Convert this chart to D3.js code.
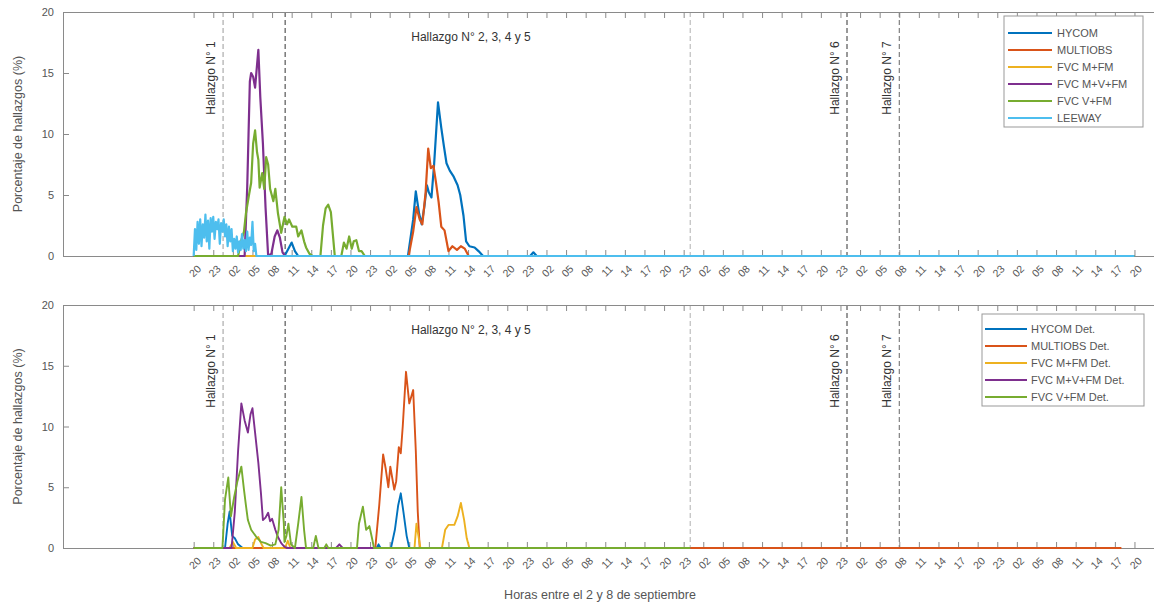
<!DOCTYPE html>
<html><head><meta charset="utf-8">
<script src="https://cdn.jsdelivr.net/npm/d3@7"></script>
<style>body{margin:0;background:#fff} svg{display:block;font-family:"Liberation Sans",Arial,Helvetica,sans-serif}</style>
</head><body><svg id="c" width="1154" height="607"></svg>
<script>
// ---------- DATA ----------
const tickLabels = ["20","23","02","05","08","11","14","17",
  "20","23","02","05","08","11","14","17",
  "20","23","02","05","08","11","14","17",
  "20","23","02","05","08","11","14","17",
  "20","23","02","05","08","11","14","17",
  "20","23","02","05","08","11","14","17","20"];
const firstTickHour = 20;   // hours since 2 Sep 00:00
const tickStepHours = 3;
const yTicks = [0,5,10,15,20];

const seriesTop = ["HYCOM","MULTIOBS","FVC M+FM","FVC M+V+FM","FVC V+FM","LEEWAY"];
const seriesBottom = ["HYCOM Det.","MULTIOBS Det.","FVC M+FM Det.","FVC M+V+FM Det.","FVC V+FM Det."];
const colors = ["#0072BD","#D95319","#EDB120","#7E2F8E","#77AC30","#4DBEEE"];

// [hour, percent]
const hycomTop = [[20,0],[33.9,0],[34.5,0.6],[35.0,1.1],[35.5,0.4],[36,0],[52.8,0],[53.6,3.0],[54.0,5.3],[54.5,3.5],[54.9,2.6],[55.3,4.0],[55.7,5.8],[56.0,5.2],[56.4,4.8],[56.8,7.5],[57.4,12.6],[57.9,10.5],[58.3,9.0],[58.7,7.6],[59.2,7.0],[59.8,6.5],[60.4,5.8],[60.8,5.0],[61.3,3.3],[61.7,1.2],[62.2,0.8],[63.0,0.7],[63.6,0.4],[64.3,0],[71.5,0],[72,0.3],[72.5,0],[164,0]];
const multiobsTop = [[20,0],[52.9,0],[53.6,2.0],[54.1,4.0],[54.6,3.0],[55.0,2.6],[55.5,5.2],[55.9,8.8],[56.3,7.2],[56.7,7.4],[57.1,6.0],[57.5,4.4],[57.9,2.4],[58.4,2.1],[59.0,0.4],[59.6,0.8],[60.3,0.5],[60.9,0.8],[61.5,0.6],[62.1,0],[164,0]];
const fvcMFMTop = [[20,0],[164,0]];
const fvcMVFMTop = [[20,0],[27.8,0],[28.2,5.7],[28.4,10.0],[28.6,14.3],[28.8,15.0],[29.1,14.7],[29.4,13.8],[29.9,16.9],[30.2,13.0],[30.6,9.2],[31.0,4.0],[31.4,0],[31.9,0.2],[32.4,1.6],[32.8,2.1],[33.2,1.5],[33.6,0.3],[34,0],[164,0]];
const fvcVFMTop = [[20,0],[26.8,0],[27.3,1.3],[27.7,2.0],[28.0,3.5],[28.5,5.1],[28.8,6.0],[29.1,9.2],[29.4,10.3],[29.7,8.5],[29.9,7.9],[30.1,5.6],[30.5,6.8],[30.8,5.5],[31.1,8.1],[31.4,7.5],[31.7,5.5],[31.9,5.1],[32.2,4.5],[32.5,5.5],[32.9,3.5],[33.4,1.9],[33.9,3.2],[34.3,2.6],[34.6,3.0],[35.1,2.4],[35.7,2.4],[36.0,1.6],[36.5,2.1],[36.9,1.2],[37.2,0.7],[37.7,0.2],[38.2,0],[39.4,0],[39.8,2.5],[40.2,3.9],[40.6,4.2],[41.0,3.6],[41.3,1.8],[41.6,0],[42.6,0],[43.0,1.1],[43.4,0.6],[43.8,1.6],[44.2,0.6],[44.5,1.2],[44.9,1.3],[45.3,0.4],[45.7,0.4],[46.2,0],[164,0]];
const leewayTop = [[20,0],[20.2,2.2],[20.4,0.5],[20.6,2.8],[20.8,1.0],[21.0,3.0],[21.2,0.8],[21.4,2.6],[21.6,1.5],[21.8,3.4],[22.0,1.2],[22.2,2.9],[22.4,0.6],[22.6,3.1],[22.8,2.0],[23.0,3.2],[23.2,1.4],[23.4,2.8],[23.6,2.2],[23.8,3.0],[24.0,1.0],[24.2,2.7],[24.4,2.0],[24.6,3.0],[24.8,1.6],[25.0,2.6],[25.2,0.8],[25.4,2.4],[25.6,1.2],[25.8,2.2],[26.0,0.4],[26.2,1.4],[26.4,0.6],[26.6,1.6],[26.8,0.3],[27.0,1.2],[27.2,0.5],[27.4,1.8],[27.6,0.6],[27.8,1.3],[28.0,0.4],[28.2,2.0],[28.4,0.5],[28.6,1.5],[28.8,0.9],[29.0,2.8],[29.2,0.4],[29.4,1.0],[29.6,0],[164,0]];

const hycomBot = [[20,0],[24.8,0],[25.2,2.0],[25.5,3.0],[25.9,1.0],[26.3,0.8],[26.8,0.3],[27.5,0],[48.0,0],[48.3,0.3],[48.6,0],[50.2,0],[50.8,1.5],[51.3,3.5],[51.7,4.5],[52.1,3.0],[52.6,1.0],[53.0,0],[96,0]];
const multiobsBot = [[20,0],[47.8,0],[48.4,3.5],[49.0,7.7],[49.4,6.5],[49.8,5.0],[50.1,6.7],[50.7,4.8],[51.0,5.5],[51.4,8.3],[51.7,7.8],[52.0,10.0],[52.5,14.5],[53.0,11.9],[53.6,13.0],[54.0,8.0],[54.3,3.0],[54.6,0],[162,0]];
const fvcMFMBot = [[20,0],[25.5,0],[26.0,0.5],[26.5,0],[29.0,0],[29.4,0.7],[29.9,0.9],[30.3,0.4],[30.7,0],[34.0,0],[34.4,0.6],[34.8,0],[53.8,0],[54.1,2.0],[54.4,1.0],[54.7,0],[58.0,0],[58.5,1.5],[59.0,1.9],[59.9,1.9],[60.4,2.6],[60.9,3.7],[61.4,2.3],[61.8,0.8],[62.2,0],[96,0]];
const fvcMVFMBot = [[20,0],[25.8,0],[26.3,3.0],[26.8,8.0],[27.3,11.9],[27.8,10.5],[28.3,9.5],[28.7,11.0],[29.0,11.5],[29.4,9.5],[29.9,7.0],[30.3,4.5],[30.6,2.3],[31.0,2.5],[31.4,2.9],[31.7,2.2],[32.0,2.4],[32.5,1.5],[32.9,0.9],[33.4,0.4],[33.9,0.1],[34.4,0],[41.8,0],[42.3,0.3],[42.8,0],[96,0]];
const fvcVFMBot = [[20,0],[24.4,0],[24.8,4.0],[25.3,5.8],[25.7,2.6],[26.2,4.2],[26.7,5.5],[27.3,6.7],[27.7,4.8],[28.0,3.5],[28.3,2.3],[28.8,1.5],[29.6,0.9],[30.3,0.5],[31.0,0.4],[31.8,0.2],[32.5,0.3],[33.0,1.5],[33.4,5.0],[33.8,2.0],[33.9,0.5],[34.2,1.0],[34.5,2.0],[34.9,0.3],[35.5,0],[36.0,2.0],[36.5,4.2],[36.9,1.5],[37.2,0],[38.3,0],[38.7,1.0],[39.1,0],[40.0,0],[40.3,0.3],[40.6,0],[45.0,0],[45.3,2.0],[45.9,3.4],[46.4,1.5],[46.9,1.8],[47.3,0.8],[47.6,0],[96,0]];

const eventHours = [24.5, 34, 96, 120, 128];
const eventColors = ["#9a9a9a","#333333","#b0b0b0","#333333","#666666"];
const verticalNotes = [{hour:24.5, text:"Hallazgo N° 1"},{hour:120, text:"Hallazgo N° 6"},{hour:128, text:"Hallazgo N° 7"}];
const horizNote = {hour:53.3, text:"Hallazgo N° 2, 3, 4 y 5"};

// ---------- DRAW ----------
const svg = d3.select("#c");
const left = 63;
const x = d3.scaleLinear().domain([0,168]).range([left, left + 56*19.6]);

const panels = [
  {top:12, bottom:256, names:seriesTop, data:[hycomTop,multiobsTop,fvcMFMTop,fvcMVFMTop,fvcVFMTop,leewayTop], lw:2.2,
   legend:{x0:1004,y0:16,x1:1143,y1:127,row0:33,l0:1008,l1:1052,tx:1057}},
  {top:305, bottom:548, names:seriesBottom, data:[hycomBot,multiobsBot,fvcMFMBot,fvcMVFMBot,fvcVFMBot], lw:1.9,
   legend:{x0:982,y0:314,x1:1144,y1:406,row0:329,l0:985,l1:1027,tx:1031}}
];

const axisColor = "#8a8a8a", textColor = "#555";

panels.forEach((p, pi) => {
  const y = d3.scaleLinear().domain([0,20]).range([p.bottom, p.top]);
  const g = svg.append("g");
  const cid = "clip"+pi;
  svg.append("defs").append("clipPath").attr("id",cid).append("rect")
    .attr("x",left).attr("y",p.top).attr("width",1154-left).attr("height",p.bottom-p.top+3);

  // event lines
  eventHours.forEach((h,i)=>{
    g.append("line").attr("x1",x(h)).attr("x2",x(h)).attr("y1",p.top).attr("y2",p.bottom)
      .attr("stroke",eventColors[i]).attr("stroke-width",1).attr("stroke-dasharray","5,3");
  });

  // axes
  const tickVals = tickLabels.map((_,i)=> firstTickHour + i*tickStepHours);
  const xb = d3.axisBottom(x).tickValues(tickVals).tickSizeInner(-6).tickSizeOuter(0).tickFormat((d,i)=>tickLabels[i]);
  const ax = g.append("g").attr("transform",`translate(0,${p.bottom})`).call(xb);
  ax.select(".domain").attr("stroke",axisColor);
  ax.selectAll(".tick line").attr("stroke",axisColor);
  ax.selectAll(".tick text").attr("fill",textColor).attr("font-size",10.5)
    .attr("text-anchor","end").attr("y",0).attr("dy","0.35em")
    .attr("transform","translate(5,11) rotate(-45)");
  const xt = d3.axisTop(x).tickValues(tickVals).tickSizeInner(-6).tickSizeOuter(0).tickFormat("");
  const axt = g.append("g").attr("transform",`translate(0,${p.top})`).call(xt);
  axt.select(".domain").attr("stroke",axisColor);
  axt.selectAll(".tick line").attr("stroke",axisColor);

  const yl = d3.axisLeft(y).tickValues(yTicks).tickSizeInner(-6).tickSizeOuter(0).tickPadding(9);
  const ay = g.append("g").attr("transform",`translate(${left},0)`).call(yl);
  ay.select(".domain").attr("stroke",axisColor);
  ay.selectAll(".tick line").attr("stroke",axisColor);
  ay.selectAll(".tick text").attr("fill",textColor).attr("font-size",11);

  // series (on top of axes)
  const line = d3.line().x(d=>x(d[0])).y(d=>y(d[1]));
  const sg = g.append("g").attr("clip-path",`url(#${cid})`);
  p.data.forEach((d,i)=>{
    sg.append("path").datum(d).attr("d",line).attr("fill","none")
      .attr("stroke",colors[i]).attr("stroke-width",p.lw).attr("stroke-linejoin","round");
  });

  // y label
  g.append("text").attr("transform",`translate(22,${(p.top+p.bottom)/2}) rotate(-90)`)
    .attr("text-anchor","middle").attr("font-size",12.5).attr("fill",textColor)
    .text("Porcentaje de hallazgos (%)");

  // notes
  verticalNotes.forEach(n=>{
    g.append("text").attr("transform",`translate(${x(n.hour)-8},${p.top+66}) rotate(-90)`)
      .attr("text-anchor","middle").attr("font-size",12).attr("fill","#333").text(n.text);
  });
  g.append("text").attr("x",x(horizNote.hour)).attr("y",p.top+29)
    .attr("font-size",12).attr("fill","#333").text(horizNote.text);

  // legend
  const L = p.legend;
  g.append("rect").attr("x",L.x0).attr("y",L.y0).attr("width",L.x1-L.x0).attr("height",L.y1-L.y0)
    .attr("fill","#fff").attr("stroke","#999").attr("stroke-width",1);
  p.names.forEach((nm,i)=>{
    const yy = L.row0 + i*17;
    g.append("line").attr("x1",L.l0).attr("x2",L.l1).attr("y1",yy).attr("y2",yy)
      .attr("stroke",colors[i]).attr("stroke-width",p.lw);
    g.append("text").attr("x",L.tx).attr("y",yy).attr("dy","0.35em")
      .attr("font-size",11).attr("fill","#555").text(nm);
  });
});

svg.append("text").attr("x",600).attr("y",599).attr("text-anchor","middle")
  .attr("font-size",12.5).attr("fill",textColor).text("Horas entre el 2 y 8 de septiembre");
</script>
</body></html>
